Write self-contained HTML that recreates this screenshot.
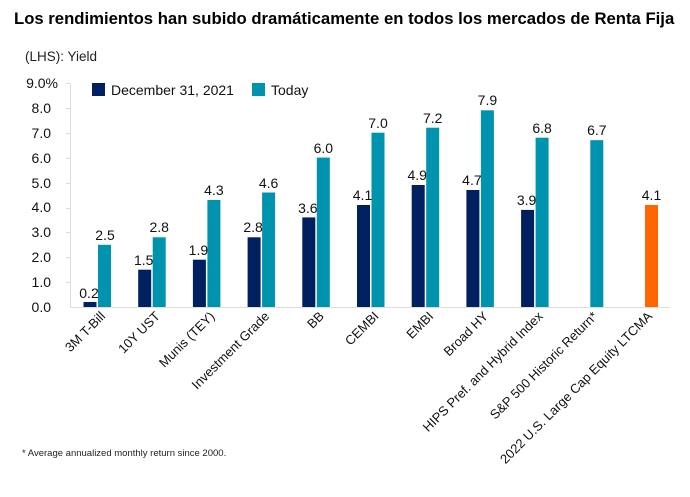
<!DOCTYPE html>
<html><head><meta charset="utf-8"><style>
html,body{margin:0;padding:0;background:#fff;}
svg{display:block;font-family:"Liberation Sans",sans-serif;}
</style></head><body>
<svg width="690" height="497" viewBox="0 0 690 497" xmlns="http://www.w3.org/2000/svg">
<text x="14" y="24" font-size="16.7" font-weight="bold" fill="#000">Los rendimientos han subido dramáticamente en todos los mercados de Renta Fija</text>
<text x="25" y="61" font-size="13.5" fill="#222">(LHS): Yield</text>
<g font-size="14" fill="#111" text-anchor="end">
<text x="58" y="88">9.0%</text>
<text x="51" y="113">8.0</text>
<text x="51" y="138">7.0</text>
<text x="51" y="163">6.0</text>
<text x="51" y="188">5.0</text>
<text x="51" y="212">4.0</text>
<text x="51" y="237">3.0</text>
<text x="51" y="262">2.0</text>
<text x="51" y="287">1.0</text>
<text x="51" y="312">0.0</text>
</g>
<g stroke="#ddd" stroke-width="1">
<line x1="70.5" y1="83" x2="70.5" y2="307"/>
<line x1="70" y1="307.5" x2="670" y2="307.5"/>
<line x1="66" y1="83.5" x2="70" y2="83.5"/><line x1="66" y1="108.5" x2="70" y2="108.5"/><line x1="66" y1="133.5" x2="70" y2="133.5"/><line x1="66" y1="158.5" x2="70" y2="158.5"/><line x1="66" y1="183.5" x2="70" y2="183.5"/><line x1="66" y1="208.5" x2="70" y2="208.5"/><line x1="66" y1="232.5" x2="70" y2="232.5"/><line x1="66" y1="257.5" x2="70" y2="257.5"/><line x1="66" y1="282.5" x2="70" y2="282.5"/>
</g>
<rect x="92" y="83" width="13" height="13" fill="#002060"/>
<text x="111" y="95" font-size="14" fill="#111">December 31, 2021</text>
<rect x="252" y="83" width="13" height="13" fill="#0093AE"/>
<text x="271" y="95" font-size="14" fill="#111">Today</text>
<g font-size="14" fill="#111" text-anchor="middle">
<rect x="83.5" y="302" width="13" height="5" fill="#002060"/><text x="89" y="298">0.2</text>
<rect x="98" y="244.8" width="13" height="62.2" fill="#0093AE"/><text x="105" y="240">2.5</text>

<rect x="138.2" y="269.7" width="13" height="37.3" fill="#002060"/><text x="143.7" y="265">1.5</text>
<rect x="152.7" y="237.3" width="13" height="69.7" fill="#0093AE"/><text x="159.2" y="232">2.8</text>

<rect x="192.9" y="259.7" width="13" height="47.3" fill="#002060"/><text x="198.4" y="255">1.9</text>
<rect x="207.4" y="200" width="13" height="107" fill="#0093AE"/><text x="213.9" y="195">4.3</text>

<rect x="247.6" y="237.3" width="13" height="69.7" fill="#002060"/><text x="253.1" y="232">2.8</text>
<rect x="262.1" y="192.5" width="13" height="114.5" fill="#0093AE"/><text x="268.6" y="188">4.6</text>

<rect x="302.3" y="217.4" width="13" height="89.6" fill="#002060"/><text x="307.8" y="213">3.6</text>
<rect x="316.8" y="157.6" width="13" height="149.4" fill="#0093AE"/><text x="323.3" y="153">6.0</text>

<rect x="357" y="205" width="13" height="102" fill="#002060"/><text x="362.5" y="200">4.1</text>
<rect x="371.5" y="132.7" width="13" height="174.3" fill="#0093AE"/><text x="378" y="128">7.0</text>

<rect x="411.7" y="185" width="13" height="122" fill="#002060"/><text x="417.2" y="180">4.9</text>
<rect x="426.2" y="127.7" width="13" height="179.3" fill="#0093AE"/><text x="432.7" y="123">7.2</text>

<rect x="466.4" y="190" width="13" height="117" fill="#002060"/><text x="471.9" y="185">4.7</text>
<rect x="480.9" y="110.3" width="13" height="196.7" fill="#0093AE"/><text x="487.4" y="105">7.9</text>

<rect x="521.1" y="209.9" width="13" height="97.1" fill="#002060"/><text x="526.6" y="205">3.9</text>
<rect x="535.6" y="137.7" width="13" height="169.3" fill="#0093AE"/><text x="542.1" y="133">6.8</text>

<rect x="590.3" y="140.2" width="13" height="166.8" fill="#0093AE"/><text x="596.8" y="135">6.7</text>

<rect x="645" y="205" width="13" height="102" fill="#FF6600"/><text x="651.5" y="200">4.1</text>
</g>
<g font-size="13" fill="#111" text-anchor="end">
<text transform="translate(106,317) rotate(-45)">3M T-Bill</text>
<text transform="translate(160.7,317) rotate(-45)">10Y UST</text>
<text transform="translate(215.4,317) rotate(-45)">Munis (TEY)</text>
<text transform="translate(270.1,317) rotate(-45)">Investment Grade</text>
<text transform="translate(324.8,317) rotate(-45)">BB</text>
<text transform="translate(379.5,317) rotate(-45)">CEMBI</text>
<text transform="translate(434.2,317) rotate(-45)">EMBI</text>
<text transform="translate(488.9,317) rotate(-45)">Broad HY</text>
<text transform="translate(543.6,317) rotate(-45)">HIPS Pref. and Hybrid Index</text>
<text transform="translate(598.3,317) rotate(-45)">S&amp;P 500 Historic Return*</text>
<text transform="translate(653,317) rotate(-45)">2022 U.S. Large Cap Equity LTCMA</text>
</g>
<text x="22" y="456" font-size="9.5" fill="#222">* Average annualized monthly return since 2000.</text>
</svg>
</body></html>
